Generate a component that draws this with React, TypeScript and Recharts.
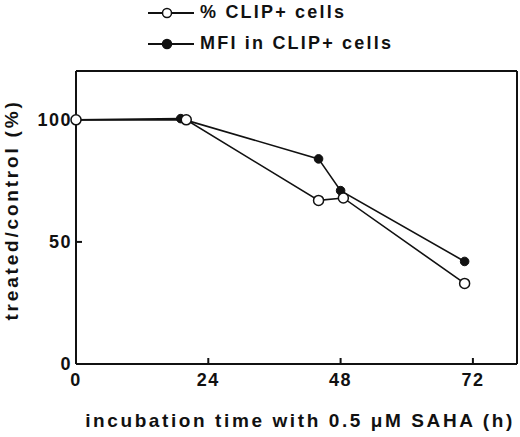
import React from "react";
import {
  LineChart,
  Line,
  XAxis,
  YAxis,
  ReferenceLine,
  Legend,
  Label,
} from "recharts";

const pctTime = [0, 20, 44, 48.5, 70.5];
const pctValues = [100, 100, 67, 68, 33];
const mfiTime = [0, 19, 44, 48, 70.5];
const mfiValues = [100, 100.5, 84, 71, 42];
const xTicks = [0, 24, 48, 72];
const yTicks = [0, 50, 100];
const seriesNames = ["% CLIP+ cells", "MFI in CLIP+ cells"];
const xLabel = "incubation time with 0.5 \u03bcM SAHA (h)";
const yLabel = "treated/control (%)";

const pctData = pctTime.map((t, i) => ({ t, v: pctValues[i] }));
const mfiData = mfiTime.map((t, i) => ({ t, v: mfiValues[i] }));

const FONT = "'Liberation Sans', Arial, sans-serif";
const INK = "#111";

const renderLegend = (props: any) => {
  const payload = props.payload || [];
  return (
    <div style={{ fontFamily: FONT, fontWeight: 700, fontSize: 18, color: INK }}>
      {payload.map((p: any, i: number) => (
        <div
          key={i}
          style={{ display: "flex", alignItems: "center", height: 31, whiteSpace: "nowrap" }}
        >
          <svg width={46} height={14} style={{ marginRight: 6 }}>
            <line x1={0} y1={7} x2={46} y2={7} stroke={INK} strokeWidth={2} />
            <circle
              cx={19}
              cy={7}
              r={4.5}
              fill={i === 0 ? "#fff" : INK}
              stroke={INK}
              strokeWidth={1.5}
            />
          </svg>
          <span style={{ letterSpacing: 2.2 }}>{p.value}</span>
        </div>
      ))}
    </div>
  );
};

const OpenDot = (props: any) => {
  const { cx, cy } = props;
  return <circle cx={cx} cy={cy} r={5} fill="#fff" stroke={INK} strokeWidth={1.5} />;
};
const FilledDot = (props: any) => {
  const { cx, cy } = props;
  return <circle cx={cx} cy={cy} r={4.3} fill={INK} stroke={INK} strokeWidth={1} />;
};

const tickStyle = {
  fontFamily: FONT,
  fontWeight: 700,
  fontSize: 18,
  fill: INK,
  letterSpacing: 1.5,
};

export default function App() {
  return (
    <div style={{ position: "absolute", left: 0, top: 0, background: "#fff" }}>
      <LineChart
        width={520}
        height={437}
        margin={{ top: 71, right: 3, left: 0, bottom: 0 }}
      >
        <XAxis
          dataKey="t"
          type="number"
          domain={[0, 80]}
          ticks={xTicks}
          allowDuplicatedCategory={false}
          height={73}
          tickSize={-6}
          tickMargin={15}
          tick={tickStyle}
          stroke={INK}
          strokeWidth={2}
        >
          <Label
            content={(p: any) => {
              const vb = p.viewBox;
              return (
                <text
                  x={300}
                  y={vb.y + vb.height - 10}
                  textAnchor="middle"
                  style={{ fontFamily: FONT, fontWeight: 700, fontSize: 19, letterSpacing: 2.6 }}
                  fill={INK}
                >
                  {xLabel}
                </text>
              );
            }}
          />
        </XAxis>
        <YAxis
          type="number"
          domain={[0, 120]}
          ticks={yTicks}
          width={76}
          tickSize={-6}
          tickMargin={10}
          tick={tickStyle}
          stroke={INK}
          strokeWidth={2}
        >
          <Label
            content={() => (
              <text
                x={18}
                y={210}
                transform="rotate(-90 18 210)"
                textAnchor="middle"
                style={{ fontFamily: FONT, fontWeight: 700, fontSize: 19, letterSpacing: 2.8 }}
                fill={INK}
              >
                {yLabel}
              </text>
            )}
          />
        </YAxis>
        <ReferenceLine y={120} stroke={INK} strokeWidth={2} />
        <ReferenceLine x={80} stroke={INK} strokeWidth={2} />
        <Legend
          layout="vertical"
          align="center"
          verticalAlign="middle"
          wrapperStyle={{ left: 148, top: -3, width: 340 }}
          content={renderLegend}
        />
        <Line
          data={mfiData}
          dataKey="v"
          name={seriesNames[1]}
          stroke={INK}
          strokeWidth={1.6}
          dot={<FilledDot />}
          isAnimationActive={false}
        />
        <Line
          data={pctData}
          dataKey="v"
          name={seriesNames[0]}
          stroke={INK}
          strokeWidth={1.6}
          dot={<OpenDot />}
          isAnimationActive={false}
        />
      </LineChart>
    </div>
  );
}
